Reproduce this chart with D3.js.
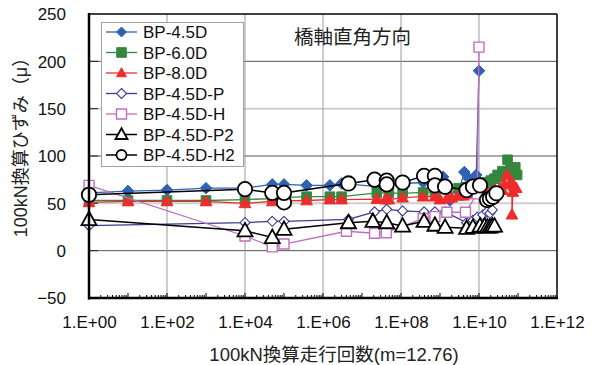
<!DOCTYPE html>
<html><head><meta charset="utf-8">
<script src="https://cdn.jsdelivr.net/npm/d3@7"></script>
<style>
html,body{margin:0;padding:0;background:#fff;}
svg{display:block;}
</style></head>
<body>
<svg id="chart" width="594" height="365"></svg>
<script>
// ---- data ----
const seriesNames = ["BP-4.5D","BP-6.0D","BP-8.0D","BP-4.5D-P","BP-4.5D-H","BP-4.5D-P2","BP-4.5D-H2"];
const BP45D = [[1,61],[10,63],[100,64],[1e3,66],[1e4,66],[5e4,70],[1e5,70],[3.8e5,69],[1.5e6,69],[3e6,71],[2.4e7,67.6],[4.3e7,70],[3.7e8,72],[7.4e8,80],[1.2e9,78],[1.8e9,53],[3e9,62],[4.2e9,83],[5.5e9,76],[8.5e9,80],[1e10,190]];
const BP60D = [[1,53],[10,53],[100,53],[1e3,53],[1e4,54],[5e4,55],[1e5,56],[3.8e5,57],[1.5e6,57],[3e6,57],[2.4e7,61],[4.9e7,61],[1.1e8,60.6],[3.7e8,61.5],[7.4e8,62],[1.5e9,65],[3e9,66],[5e9,67],[8e9,67],[1.1e10,70],[1.4e10,72],[1.7e10,68],[2e10,74],[2.5e10,76],[3e10,80],[3.5e10,78],[4e10,84],[4.5e10,82],[5.4e10,96],[6.5e10,86],[7.5e10,84],[8.5e10,88],[9.5e10,80]];
const BP80D = [[1,51],[10,52],[100,52],[1e3,52],[1e4,50],[5e4,52],[1e5,52.5],[3.8e5,53],[1.5e6,54],[3e6,54],[2.4e7,54.5],[4e7,54],[4.9e7,54],[1.1e8,56],[3.7e8,57],[7.4e8,57],[1e9,54],[1.5e9,55],[2e9,56],[3e9,58],[4e9,58],[5e9,60],[7e9,62],[9e9,63],[1.1e10,60],[1.4e10,58],[1.7e10,62],[2e10,60],[2.5e10,64],[3e10,62],[3.5e10,66],[4e10,64],[4.5e10,70],[5.2e10,80],[6e10,70],[7e10,72],[7e10,38],[7.4e10,62],[8e10,68],[9e10,66]];
const BP45DP = [[1,26.4],[1e4,29.6],[5e4,31],[1e5,31],[4.5e6,33],[2.1e7,41],[4.3e7,43.7],[1.1e8,42],[3.9e8,41],[7.4e8,41],[1.35e9,41],[4.8e9,29.6],[7e9,32],[9e9,35.5],[1.25e10,37.7],[1.6e10,41],[1.9e10,39.5],[2.2e10,43]];
const BP45DH = [[1,69],[1e4,15.5],[5e4,4],[1e5,7],[4e6,20.5],[2.1e7,18.4],[4.2e7,19],[3.7e8,34],[7.4e8,36],[1.5e9,40.6],[4.5e9,40.6],[9e9,60],[1e10,215]];
const BP45DP2 = [[1,33],[1e4,21],[5e4,14],[1e5,22.6],[4.5e6,29.6],[1.9e7,31],[4.3e7,29.6],[1.1e8,26],[3.9e8,31],[7.4e8,27],[1.35e9,24.7],[4.8e9,23.6],[7e9,24.7],[1.06e10,26],[1.4e10,26],[1.65e10,25],[1.9e10,25],[2.2e10,26],[2.5e10,26]];
const BP45DH2 = [[1,59],[1e4,65],[5e4,61],[1e5,51],[1e5,61],[4.5e6,71],[2.1e7,75],[4.3e7,74],[4.3e7,70],[1.1e8,72],[3.9e8,79],[7.4e8,79],[7.4e8,69],[1.35e9,67.6],[4.8e9,64],[7e9,67.6],[1.06e10,69],[1.6e10,53.5],[1.9e10,55],[2.3e10,57],[2.8e10,60.6]];
const yTicks = [250,200,150,100,50,0,-50];
const xTickExponents = [0,2,4,6,8,10,12];
const xTickLabels = ["1.E+00","1.E+02","1.E+04","1.E+06","1.E+08","1.E+10","1.E+12"];
const titleText = "橋軸直角方向";
const yLabel = "100kN換算ひずみ（μ）";
const xLabel = "100kN換算走行回数(m=12.76)";

const allSeries = [BP45D, BP60D, BP80D, BP45DP, BP45DH, BP45DP2, BP45DH2];
const styles = [
  {color:"#2F62B3", shape:"diamond", fill:"#2F62B3", s:5.8, sw:1, lw:1.3},
  {color:"#35873F", shape:"square", fill:"#35873F", s:4.8, sw:1, lw:1.3},
  {color:"#EE2C2C", shape:"triangle", fill:"#EE2C2C", s:5.8, sw:1, lw:1.3},
  {color:"#3B3B8F", shape:"diamond", fill:"#fff", s:5, sw:1.1, lw:1.3},
  {color:"#C06EC0", shape:"square", fill:"#fff", s:5, sw:1.4, lw:1.3},
  {color:"#000", shape:"triangle", fill:"#fff", s:7.5, sw:1.8, lw:1.5},
  {color:"#000", shape:"circle", fill:"#fff", s:7.2, sw:1.8, lw:1.5}
];

function markerPath(shape, s){
  if(shape==="diamond") return `M0,${-s}L${s},0L0,${s}L${-s},0Z`;
  if(shape==="square") return `M${-s},${-s}H${s}V${s}H${-s}Z`;
  if(shape==="triangle") return `M0,${-s*1.05}L${s},${s*0.75}L${-s},${s*0.75}Z`;
  return d3.symbol(d3.symbolCircle, Math.PI*s*s)();
}

const svg = d3.select("#chart");
const L=89, R=557, T=14, B=298;
const x = d3.scaleLog().domain([1,1e12]).range([L,R]);
const y = d3.scaleLinear().domain([-50,250]).range([B,T]);
const font = "'Liberation Sans', Arial, 'Noto Sans CJK JP', sans-serif";

// gridlines horizontal
yTicks.forEach(v=>{
  if(v===250||v===-50) return;
  const light = (v===150||v===50);
  svg.append("line").attr("x1",L).attr("x2",R).attr("y1",y(v)).attr("y2",y(v))
    .attr("stroke", light?"#cfcfcf":"#555").attr("stroke-width", light?2:1);
  svg.append("line").attr("x1",L).attr("x2",L+9).attr("y1",y(v)).attr("y2",y(v))
    .attr("stroke","#222").attr("stroke-width",1);
});
// vertical gridlines
xTickExponents.forEach(e=>{
  if(e===0||e===12) return;
  svg.append("line").attr("x1",x(Math.pow(10,e))).attr("x2",x(Math.pow(10,e))).attr("y1",T).attr("y2",B)
    .attr("stroke","#9a9a9a").attr("stroke-width",1);
});
// minor ticks on x-axis
for(let e=0;e<12;e++){
  for(let m=1;m<=9;m++){
    const v = m*Math.pow(10,e);
    const len = m===1?5:3;
    svg.append("line").attr("x1",x(v)).attr("x2",x(v)).attr("y1",B).attr("y2",B-len)
      .attr("stroke","#000").attr("stroke-width",1);
  }
}

// frame
svg.append("line").attr("x1",L).attr("x2",R).attr("y1",T).attr("y2",T).attr("stroke","#000").attr("stroke-width",1.5);
svg.append("line").attr("x1",R).attr("x2",R).attr("y1",T).attr("y2",B).attr("stroke","#000").attr("stroke-width",1.5);

// series
const line = d3.line().x(d=>x(d[0])).y(d=>y(d[1]));
allSeries.forEach((data,i)=>{
  const st = styles[i];
  const g = svg.append("g");
  g.append("path").attr("d", line(data)).attr("fill","none").attr("stroke",st.color).attr("stroke-width",st.lw);
  g.selectAll("path.m").data(data).enter().append("path").attr("class","m")
    .attr("d", markerPath(st.shape, st.s))
    .attr("transform", d=>`translate(${x(d[0])},${y(d[1])})`)
    .attr("fill", st.fill).attr("stroke", st.color).attr("stroke-width", st.sw);
});

// axes lines (thick)
svg.append("line").attr("x1",L).attr("x2",L).attr("y1",T-1).attr("y2",B+1.5).attr("stroke","#000").attr("stroke-width",2.5);
svg.append("line").attr("x1",L-1).attr("x2",R+1).attr("y1",B).attr("y2",B).attr("stroke","#000").attr("stroke-width",2.5);

// y tick labels
const yAxis = d3.axisLeft(y).tickValues(yTicks).tickSize(0).tickPadding(0).tickFormat(d3.format("d"));
const yg = svg.append("g").attr("transform",`translate(66,0)`).call(yAxis);
yg.select(".domain").remove();
yg.selectAll("text").attr("font-family",font).attr("font-size",17).attr("fill","#111").attr("dy","0.35em");

// x tick labels
const xAxis = d3.axisBottom(x).tickValues(xTickExponents.map(e=>Math.pow(10,e))).tickSize(0).tickPadding(0)
  .tickFormat((d,i)=>xTickLabels[i]);
const xg = svg.append("g").attr("transform",`translate(0,316)`).call(xAxis);
xg.select(".domain").remove();
xg.selectAll("text").attr("font-family",font).attr("font-size",17).attr("fill","#111").attr("dy","0.7em");

// title
svg.append("text").attr("x",294).attr("y",44).attr("font-family","'Noto Sans CJK JP', sans-serif")
  .attr("font-size",19.5).attr("fill","#222").text(titleText);

// axis labels
svg.append("text").attr("transform","translate(27,143) rotate(-90)").attr("text-anchor","middle")
  .attr("font-family",font).attr("font-size",18).attr("fill","#222").text(yLabel);
svg.append("text").attr("x",334).attr("y",361).attr("text-anchor","middle")
  .attr("font-family",font).attr("font-size",18.5).attr("fill","#222").text(xLabel);

// legend
const lg = svg.append("g");
lg.append("rect").attr("x",101.5).attr("y",22.5).attr("width",142).attr("height",144)
  .attr("fill","#fff").attr("stroke","#a0a0a0").attr("stroke-width",1);
seriesNames.forEach((name,i)=>{
  const st = styles[i];
  const yy = 32 + i*20.5;
  lg.append("line").attr("x1",106).attr("x2",137).attr("y1",yy).attr("y2",yy)
    .attr("stroke",st.color).attr("stroke-width",st.lw);
  const ls = st.shape==="circle"?5:(st.shape==="triangle"&&st.fill==="#fff"?6:Math.min(st.s,5));
  lg.append("path").attr("d",markerPath(st.shape, ls)).attr("transform",`translate(121.5,${yy})`)
    .attr("fill",st.fill).attr("stroke",st.color).attr("stroke-width",st.sw);
  lg.append("text").attr("x",143).attr("y",yy).attr("dy","0.36em").attr("font-family",font)
    .attr("font-size",17).attr("fill","#111").text(name);
});
</script>
</body></html>
